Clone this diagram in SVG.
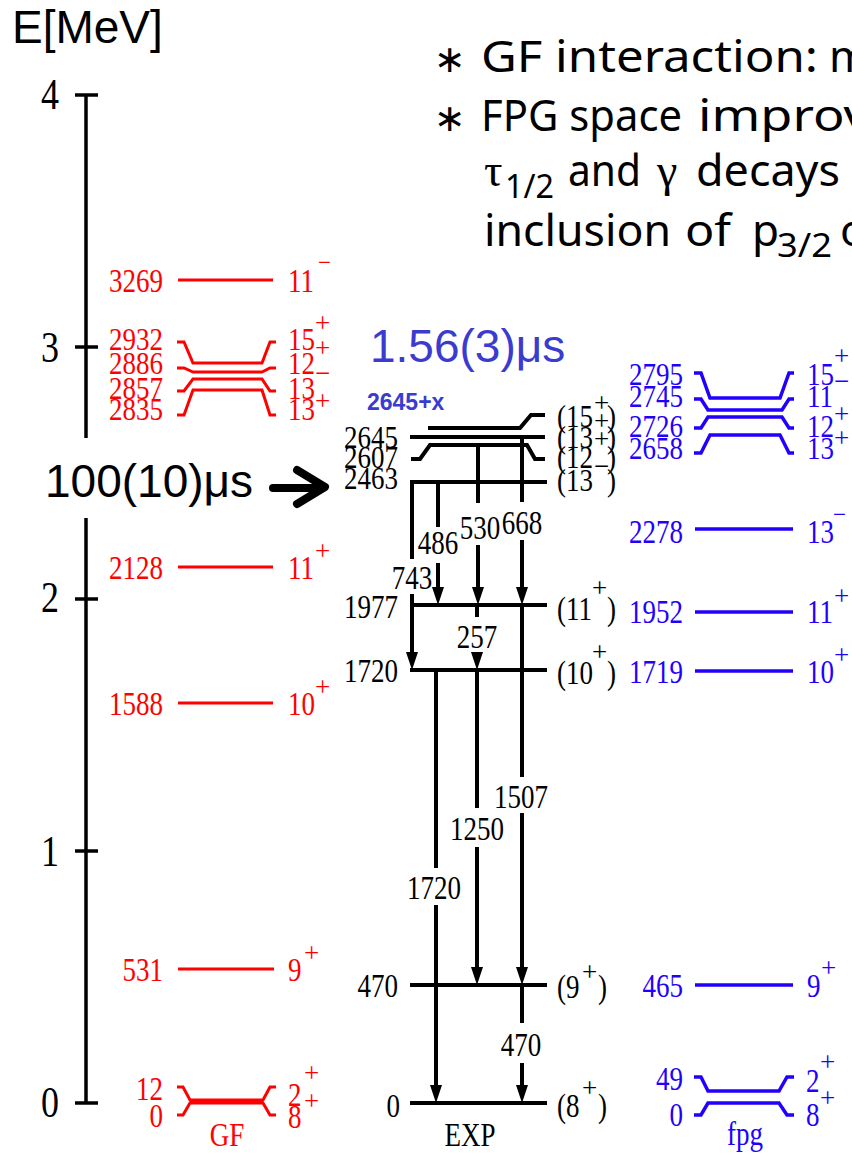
<svg xmlns="http://www.w3.org/2000/svg" width="852" height="1153" viewBox="0 0 852 1153">
<style>
.n{font-family:"Liberation Serif","Times New Roman",serif;font-size:27px}
.ax{font-family:"Liberation Serif","Times New Roman",serif;font-size:36px;text-anchor:end}
.sp{font-family:"Liberation Serif","Times New Roman",serif;font-size:27px}
.mi{font-family:"Liberation Serif","Times New Roman",serif;font-size:23px}
.e{text-anchor:end}
.m{text-anchor:middle}
.r{fill:#ff0000}
.b{fill:#2200ff}
.k{fill:#000}
.lr{stroke:#ff0000;stroke-width:3;fill:none}
.lb{stroke:#2200ff;stroke-width:3.5;fill:none}
.lk{stroke:#000;stroke-width:4;fill:none;stroke-linecap:square}
.tr{stroke:#000;stroke-width:4;fill:none}
.big{font-family:"Liberation Sans",Arial,sans-serif;font-size:46px}
.cm{font-family:"Noto Sans","Open Sans",sans-serif;font-size:44px;fill:#000}
.sub{font-family:"Noto Sans","Open Sans",sans-serif;font-size:32px;fill:#000}
.ast{font-family:"DejaVu Sans",sans-serif;font-size:38px;fill:#000}
.gr{font-family:"Liberation Serif",serif;font-size:46px;fill:#000}
</style>
<defs>
<marker id="ah" viewBox="0 0 18 12" refX="6" refY="6" markerWidth="18" markerHeight="12" markerUnits="userSpaceOnUse" orient="auto"><path d="M0,0 L18,6 L0,12 z" fill="#000"/></marker>
</defs>

<!-- axis -->
<g id="axis" stroke="#000" stroke-width="3.5">
<line x1="86" y1="95" x2="86" y2="438"/>
<line x1="86" y1="518" x2="86" y2="1103"/>
<line x1="75" y1="95" x2="98" y2="95"/>
<line x1="75" y1="347" x2="98" y2="347"/>
<line x1="75" y1="599" x2="98" y2="599"/>
<line x1="75" y1="851" x2="98" y2="851"/>
<line x1="75" y1="1103" x2="98" y2="1103"/>
</g>
<g id="axis-labels">
<text class="big" x="12" y="43">E[MeV]</text>
<text class="ax" x="59" y="106" transform="translate(0 94) scale(1 1.24) translate(0 -94)">4</text>
<text class="ax" x="59" y="359" transform="translate(0 347) scale(1 1.24) translate(0 -347)">3</text>
<text class="ax" x="59" y="609" transform="translate(0 597) scale(1 1.24) translate(0 -597)">2</text>
<text class="ax" x="59" y="863" transform="translate(0 851) scale(1 1.24) translate(0 -851)">1</text>
<text class="ax" x="59" y="1114" transform="translate(0 1102) scale(1 1.24) translate(0 -1102)">0</text>
</g>

<!-- notes -->
<g id="notes">
<text class="ast" x="434" y="72">∗</text>
<text class="cm" x="481" y="72" textLength="337" lengthAdjust="spacingAndGlyphs">GF interaction:</text>
<text class="cm" x="829" y="72">m</text>
<text class="ast" x="434" y="131">∗</text>
<text class="cm" x="481" y="131" textLength="201" lengthAdjust="spacingAndGlyphs">FPG space</text>
<text class="cm" x="698" y="131" textLength="172" lengthAdjust="spacingAndGlyphs">improv</text>
<text class="gr" x="484" y="186">τ</text>
<text class="sub" x="505" y="198" textLength="49" lengthAdjust="spacingAndGlyphs">1/2</text>
<text class="cm" x="568" y="186" textLength="73" lengthAdjust="spacingAndGlyphs">and</text>
<text class="gr" x="657" y="186">γ</text>
<text class="cm" x="696" y="186" textLength="144" lengthAdjust="spacingAndGlyphs">decays</text>
<text class="cm" x="484" y="246" textLength="187" lengthAdjust="spacingAndGlyphs">inclusion</text>
<text class="cm" x="685" y="246" textLength="46" lengthAdjust="spacingAndGlyphs">of</text>
<text class="cm" x="752" y="246">p</text>
<text class="sub" x="777" y="257" textLength="55" lengthAdjust="spacingAndGlyphs">3/2</text>
<text class="cm" x="840" y="246">o</text>
</g>

<!-- GF levels -->
<g id="gf-3269"><line class="lr" x1="178" y1="280" x2="273" y2="280"/><text class="n e r" x="163" y="289" transform="translate(0 280) scale(1 1.28) translate(0 -280)">3269</text><text class="n r" x="288" y="289" transform="translate(0 280) scale(1 1.28) translate(0 -280)">11</text><text class="mi r" x="318" y="270">−</text></g>
<g id="gf-2932"><polyline class="lr" points="177,342 184,342 193,363 262,363 270,342 276,342"/><text class="n e r" x="163" y="348" transform="translate(0 339) scale(1 1.2) translate(0 -339)">2932</text><text class="n r" x="288" y="348" transform="translate(0 339) scale(1 1.2) translate(0 -339)">15</text><text class="sp r" x="315" y="332">+</text></g>
<g id="gf-2886"><polyline class="lr" points="177,368 184,368 193,372 262,372 270,368 276,368"/><text class="n e r" x="163" y="372" transform="translate(0 363) scale(1 1.2) translate(0 -363)">2886</text><text class="n r" x="288" y="372" transform="translate(0 363) scale(1 1.2) translate(0 -363)">12</text><text class="sp r" x="315" y="357">+</text></g>
<g id="gf-2857"><polyline class="lr" points="177,391 184,391 193,379 262,379 270,391 276,391"/><text class="n e r" x="163" y="397" transform="translate(0 388) scale(1 1.2) translate(0 -388)">2857</text><text class="n r" x="288" y="397" transform="translate(0 388) scale(1 1.2) translate(0 -388)">13</text><text class="sp r" x="315" y="382">−</text></g>
<g id="gf-2835"><polyline class="lr" points="177,415 184,415 193,390 262,390 270,415 276,415"/><text class="n e r" x="163" y="418" transform="translate(0 409) scale(1 1.2) translate(0 -409)">2835</text><text class="n r" x="288" y="418" transform="translate(0 409) scale(1 1.2) translate(0 -409)">13</text><text class="sp r" x="315" y="410">+</text></g>
<g id="gf-2128"><line class="lr" x1="178" y1="567" x2="273" y2="567"/><text class="n e r" x="163" y="576" transform="translate(0 567) scale(1 1.28) translate(0 -567)">2128</text><text class="n r" x="288" y="576" transform="translate(0 567) scale(1 1.28) translate(0 -567)">11</text><text class="sp r" x="315" y="560">+</text></g>
<g id="gf-1588"><line class="lr" x1="178" y1="703" x2="273" y2="703"/><text class="n e r" x="163" y="712" transform="translate(0 703) scale(1 1.28) translate(0 -703)">1588</text><text class="n r" x="288" y="712" transform="translate(0 703) scale(1 1.28) translate(0 -703)">10</text><text class="sp r" x="315" y="696">+</text></g>
<g id="gf-531"><line class="lr" x1="178" y1="969" x2="274" y2="969"/><text class="n e r" x="163" y="978" transform="translate(0 969) scale(1 1.28) translate(0 -969)">531</text><text class="n r" x="288" y="978" transform="translate(0 969) scale(1 1.28) translate(0 -969)">9</text><text class="sp r" x="304" y="962">+</text></g>
<g id="gf-12"><polyline class="lr" points="177,1087 183,1087 190,1100 263,1100 270,1087 276,1087"/><text class="n e r" x="163" y="1097" transform="translate(0 1088) scale(1 1.28) translate(0 -1088)">12</text><text class="n r" x="288" y="1103" transform="translate(0 1094) scale(1 1.28) translate(0 -1094)">2</text><text class="sp r" x="304" y="1082">+</text></g>
<g id="gf-0"><polyline class="lr" points="177,1115 183,1115 190,1103 263,1103 270,1115 276,1115"/><line class="lr" x1="190" y1="1101.5" x2="263" y2="1101.5"/><text class="n e r" x="163" y="1124" transform="translate(0 1115) scale(1 1.28) translate(0 -1115)">0</text><text class="n r" x="288" y="1125" transform="translate(0 1116) scale(1 1.28) translate(0 -1116)">8</text><text class="sp r" x="304" y="1110">+</text></g>
<g id="gf-title"><text class="n m r" x="227" y="1143" transform="translate(0 1134) scale(1 1.28) translate(0 -1134)">GF</text></g>

<!-- EXP levels -->
<g id="exp-2645x"><polyline class="lk" points="430,428 520,428 531,415 543,415"/><text class="n k" x="557" y="425" transform="translate(0 416) scale(1 1.2) translate(0 -416)">(15</text><text class="sp k" x="594" y="412">+</text><text class="n k" x="607" y="425" transform="translate(0 416) scale(1 1.2) translate(0 -416)">)</text>
<text x="367" y="410" style="font-family:'Liberation Sans',Arial,sans-serif;font-size:23px;font-weight:bold;fill:#3b3bcf">2645+x</text>
<text class="big" x="370" y="362" style="fill:#3b3bcf">1.56(3)μs</text></g>
<g id="exp-2645"><line class="lk" x1="412" y1="437" x2="543" y2="437"/><text class="n e k" x="398" y="446" transform="translate(0 437) scale(1 1.2) translate(0 -437)">2645</text><text class="n k" x="557" y="446" transform="translate(0 437) scale(1 1.2) translate(0 -437)">(13</text><text class="sp k" x="594" y="430">+</text><text class="n k" x="607" y="446" transform="translate(0 437) scale(1 1.2) translate(0 -437)">)</text></g>
<g id="exp-2607"><polyline class="lk" points="413,459 420,459 430,445 527,445 535,459 543,459"/><text class="n e k" x="398" y="466" transform="translate(0 457) scale(1 1.2) translate(0 -457)">2607</text><text class="n k" x="557" y="466" transform="translate(0 457) scale(1 1.2) translate(0 -457)">(12</text><text class="sp k" x="594" y="448">+</text><text class="n k" x="607" y="466" transform="translate(0 457) scale(1 1.2) translate(0 -457)">)</text></g>
<g id="exp-2463"><line class="lk" x1="412" y1="482" x2="545" y2="482"/><text class="n e k" x="398" y="487" transform="translate(0 478) scale(1 1.2) translate(0 -478)">2463</text><text class="n k" x="557" y="489" transform="translate(0 480) scale(1 1.2) translate(0 -480)">(13</text><text class="sp k" x="594" y="475">−</text><text class="n k" x="607" y="489" transform="translate(0 480) scale(1 1.2) translate(0 -480)">)</text>
<text class="big" x="45" y="497">100(10)μs</text>
<line x1="273" y1="488" x2="321" y2="488" stroke="#000" stroke-width="8" stroke-linecap="round"/><polyline points="297,470 325,487 297,504" fill="none" stroke="#000" stroke-width="8" stroke-linecap="round" stroke-linejoin="round"/></g>
<g id="exp-1977"><line class="lk" x1="412" y1="605" x2="545" y2="605"/><text class="n e k" x="398" y="615" transform="translate(0 606) scale(1 1.28) translate(0 -606)">1977</text><text class="n k" x="557" y="617" transform="translate(0 608) scale(1 1.28) translate(0 -608)">(11</text><text class="sp k" x="592" y="597">+</text><text class="n k" x="607" y="617" transform="translate(0 608) scale(1 1.28) translate(0 -608)">)</text></g>
<g id="exp-1720"><line class="lk" x1="412" y1="670" x2="545" y2="670"/><text class="n e k" x="398" y="679" transform="translate(0 670) scale(1 1.28) translate(0 -670)">1720</text><text class="n k" x="557" y="681" transform="translate(0 672) scale(1 1.28) translate(0 -672)">(10</text><text class="sp k" x="592" y="661">+</text><text class="n k" x="607" y="681" transform="translate(0 672) scale(1 1.28) translate(0 -672)">)</text></g>
<g id="exp-470"><line class="lk" x1="412" y1="985" x2="545" y2="985"/><text class="n e k" x="398" y="994" transform="translate(0 985) scale(1 1.28) translate(0 -985)">470</text><text class="n k" x="557" y="995" transform="translate(0 986) scale(1 1.28) translate(0 -986)">(9</text><text class="sp k" x="582" y="981">+</text><text class="n k" x="598" y="995" transform="translate(0 986) scale(1 1.28) translate(0 -986)">)</text></g>
<g id="exp-0"><line class="lk" x1="412" y1="1103" x2="545" y2="1103"/><text class="n e k" x="400" y="1114" transform="translate(0 1105) scale(1 1.28) translate(0 -1105)">0</text><text class="n k" x="557" y="1114" transform="translate(0 1105) scale(1 1.28) translate(0 -1105)">(8</text><text class="sp k" x="582" y="1097">+</text><text class="n k" x="598" y="1114" transform="translate(0 1105) scale(1 1.28) translate(0 -1105)">)</text></g>
<g id="exp-title"><text class="n m k" x="470" y="1143" transform="translate(0 1134) scale(1 1.28) translate(0 -1134)">EXP</text></g>

<!-- fpg levels -->
<g id="fpg-2795"><polyline class="lb" points="694,373 701,373 710,398 780,398 789,373 794,373"/><text class="n e b" x="683" y="383" transform="translate(0 374) scale(1 1.2) translate(0 -374)">2795</text><text class="n b" x="807" y="383" transform="translate(0 374) scale(1 1.2) translate(0 -374)">15</text><text class="sp b" x="834" y="365">+</text></g>
<g id="fpg-2745"><polyline class="lb" points="694,399 701,399 708,410 782,410 789,399 794,399"/><text class="n e b" x="683" y="405" transform="translate(0 396) scale(1 1.2) translate(0 -396)">2745</text><text class="n b" x="807" y="405" transform="translate(0 396) scale(1 1.2) translate(0 -396)">11</text><text class="sp b" x="834" y="390">−</text></g>
<g id="fpg-2726"><polyline class="lb" points="694,428 701,428 708,417 782,417 789,428 794,428"/><text class="n e b" x="683" y="435" transform="translate(0 426) scale(1 1.2) translate(0 -426)">2726</text><text class="n b" x="807" y="435" transform="translate(0 426) scale(1 1.2) translate(0 -426)">12</text><text class="sp b" x="834" y="423">+</text></g>
<g id="fpg-2658"><polyline class="lb" points="694,453 701,453 710,435 780,435 789,453 794,453"/><text class="n e b" x="683" y="457" transform="translate(0 448) scale(1 1.2) translate(0 -448)">2658</text><text class="n b" x="807" y="457" transform="translate(0 448) scale(1 1.2) translate(0 -448)">13</text><text class="sp b" x="834" y="447">+</text></g>
<g id="fpg-2278"><line class="lb" x1="695" y1="529" x2="793" y2="529"/><text class="n e b" x="683" y="540" transform="translate(0 531) scale(1 1.28) translate(0 -531)">2278</text><text class="n b" x="807" y="540" transform="translate(0 531) scale(1 1.28) translate(0 -531)">13</text><text class="mi b" x="833" y="522">−</text></g>
<g id="fpg-1952"><line class="lb" x1="695" y1="612" x2="793" y2="612"/><text class="n e b" x="683" y="620" transform="translate(0 611) scale(1 1.28) translate(0 -611)">1952</text><text class="n b" x="807" y="620" transform="translate(0 611) scale(1 1.28) translate(0 -611)">11</text><text class="sp b" x="834" y="605">+</text></g>
<g id="fpg-1719"><line class="lb" x1="695" y1="671" x2="793" y2="671"/><text class="n e b" x="683" y="680" transform="translate(0 671) scale(1 1.28) translate(0 -671)">1719</text><text class="n b" x="807" y="680" transform="translate(0 671) scale(1 1.28) translate(0 -671)">10</text><text class="sp b" x="834" y="664">+</text></g>
<g id="fpg-465"><line class="lb" x1="695" y1="985" x2="793" y2="985"/><text class="n e b" x="683" y="994" transform="translate(0 985) scale(1 1.28) translate(0 -985)">465</text><text class="n b" x="807" y="994" transform="translate(0 985) scale(1 1.28) translate(0 -985)">9</text><text class="sp b" x="821" y="977">+</text></g>
<g id="fpg-49"><polyline class="lb" points="694,1077 701,1077 708,1091 779,1091 787,1077 794,1077"/><text class="n e b" x="683" y="1087" transform="translate(0 1078) scale(1 1.28) translate(0 -1078)">49</text><text class="n b" x="806" y="1089" transform="translate(0 1080) scale(1 1.28) translate(0 -1080)">2</text><text class="sp b" x="820" y="1071">+</text></g>
<g id="fpg-0"><polyline class="lb" points="694,1115 701,1115 708,1103 779,1103 787,1115 794,1115"/><text class="n e b" x="683" y="1123" transform="translate(0 1114) scale(1 1.28) translate(0 -1114)">0</text><text class="n b" x="806" y="1123" transform="translate(0 1114) scale(1 1.28) translate(0 -1114)">8</text><text class="sp b" x="820" y="1107">+</text></g>
<g id="fpg-title"><text class="n m b" x="745" y="1142" transform="translate(0 1133) scale(1 1.28) translate(0 -1133)">fpg</text></g>

<!-- transitions -->
<g id="connectors">
<line class="tr" x1="412" y1="482" x2="412" y2="559"/><line class="tr" x1="412" y1="594" x2="412" y2="658" marker-end="url(#ah)"/>
<line class="tr" x1="438" y1="482" x2="438" y2="527"/><line class="tr" x1="438" y1="563" x2="438" y2="593" marker-end="url(#ah)"/>
<line class="tr" x1="478" y1="445" x2="478" y2="503"/><line class="tr" x1="478" y1="545" x2="478" y2="593" marker-end="url(#ah)"/>
<line class="tr" x1="522" y1="437" x2="522" y2="502"/><line class="tr" x1="522" y1="540" x2="522" y2="593" marker-end="url(#ah)"/>
<line class="tr" x1="477" y1="605" x2="477" y2="617"/><line class="tr" x1="477" y1="656" x2="477" y2="658" marker-end="url(#ah)"/>
<line class="tr" x1="522" y1="605" x2="522" y2="777"/><line class="tr" x1="522" y1="813" x2="522" y2="973" marker-end="url(#ah)"/>
<line class="tr" x1="477" y1="670" x2="477" y2="808"/><line class="tr" x1="477" y1="847" x2="477" y2="973" marker-end="url(#ah)"/>
<line class="tr" x1="436" y1="670" x2="436" y2="868"/><line class="tr" x1="436" y1="905" x2="436" y2="1091" marker-end="url(#ah)"/>
<line class="tr" x1="522" y1="985" x2="522" y2="1023"/><line class="tr" x1="522" y1="1063" x2="522" y2="1091" marker-end="url(#ah)"/>
</g>
<g id="transition-labels">
<text class="n m k" x="412" y="586" transform="translate(0 577) scale(1 1.28) translate(0 -577)">743</text>
<text class="n m k" x="438" y="551" transform="translate(0 542) scale(1 1.28) translate(0 -542)">486</text>
<text class="n m k" x="480" y="536" transform="translate(0 527) scale(1 1.28) translate(0 -527)">530</text>
<text class="n m k" x="522" y="531" transform="translate(0 522) scale(1 1.28) translate(0 -522)">668</text>
<text class="n m k" x="477" y="645" transform="translate(0 636) scale(1 1.28) translate(0 -636)">257</text>
<text class="n m k" x="521" y="805" transform="translate(0 796) scale(1 1.28) translate(0 -796)">1507</text>
<text class="n m k" x="477" y="837" transform="translate(0 828) scale(1 1.28) translate(0 -828)">1250</text>
<text class="n m k" x="434" y="896" transform="translate(0 887) scale(1 1.28) translate(0 -887)">1720</text>
<text class="n m k" x="521" y="1053" transform="translate(0 1044) scale(1 1.28) translate(0 -1044)">470</text>
</g>
</svg>
